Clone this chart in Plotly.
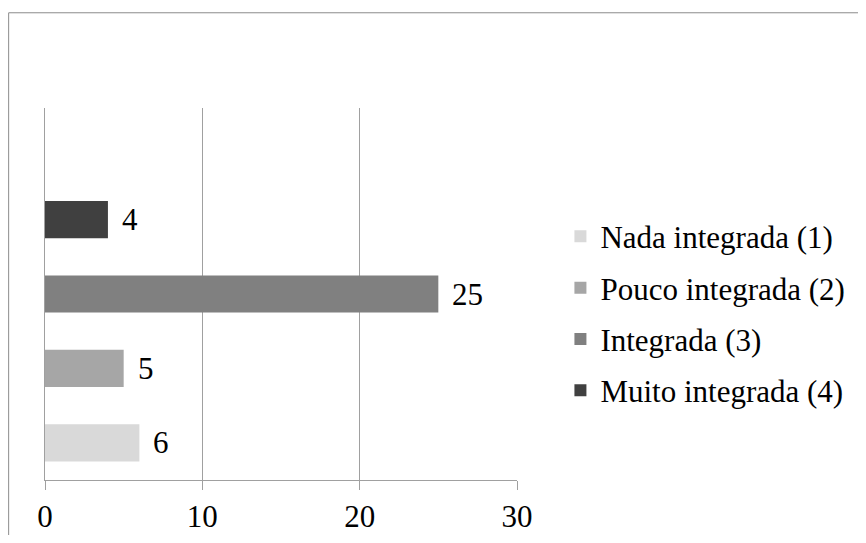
import plotly.graph_objects as go

# data
labels = ["Nada integrada (1)", "Pouco integrada (2)", "Integrada (3)", "Muito integrada (4)"]
values = [6, 5, 25, 4]
positions = [0, 1, 2, 3]
colors = ["#D9D9D9", "#A6A6A6", "#808080", "#404040"]
x_ticks = [0, 10, 20, 30]

FONT = "Liberation Serif"
GRID = "#A0A0A0"
FS = 31

fig = go.Figure()
for i, (lab, val, pos, col) in enumerate(zip(labels, values, positions, colors)):
    fig.add_trace(go.Bar(
        x=[val], y=[pos], orientation="h", name=lab,
        marker=dict(color=col, line=dict(width=0)),
        width=0.5, legendgroup=f"g{i}",
    ))
    fig.add_annotation(x=val, y=pos, text=str(val), showarrow=False,
                       xanchor="left", xshift=12,
                       font=dict(family=FONT, size=FS, color="#000"))

# outer frame
fig.add_shape(type="rect", xref="paper", yref="paper",
              x0=-0.077, x1=2.0, y0=-0.3, y1=1.256,
              line=dict(color="#8C8C8C", width=1), fillcolor="rgba(0,0,0,0)",
              layer="below")

fig.update_layout(
    width=850, height=527,
    plot_bgcolor="white", paper_bgcolor="white",
    font=dict(family=FONT, size=FS, color="#000"),
    margin=dict(l=37, r=341, t=100, b=55, autoexpand=False),
    barmode="overlay", showlegend=True,
    legend=dict(x=1.092, y=0.447, xanchor="left", yanchor="middle",
                traceorder="grouped", tracegroupgap=8,
                font=dict(family=FONT, size=FS, color="#000"),
                bgcolor="rgba(0,0,0,0)"),
    xaxis=dict(range=[0, 30], tickvals=x_ticks, showgrid=True, gridcolor=GRID,
               gridwidth=1, zeroline=False, showline=True, linecolor=GRID,
               ticks="outside", ticklen=9, tickcolor=GRID, ticklabelstandoff=0,
               automargin=False, fixedrange=True),
    yaxis=dict(range=[-0.5, 4.5], showticklabels=False, showgrid=False,
               zeroline=False, showline=True, linecolor=GRID, ticks="",
               automargin=False, fixedrange=True),
)

fig.write_html("out.html")
